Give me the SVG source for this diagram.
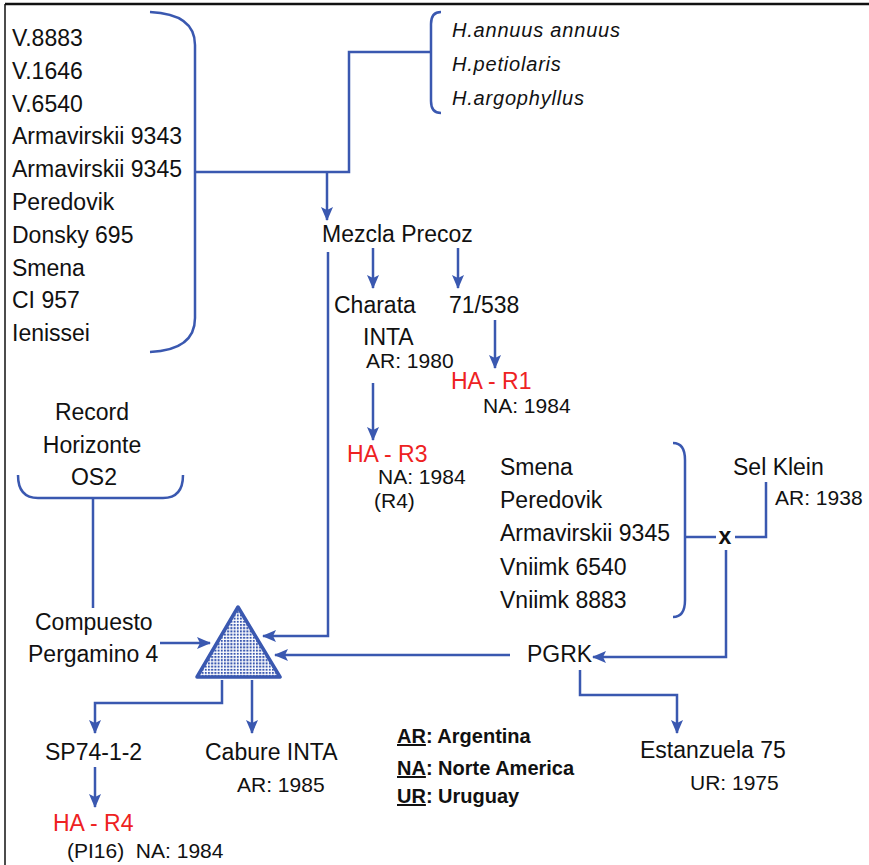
<svg xmlns="http://www.w3.org/2000/svg" width="869" height="865" viewBox="0 0 869 865">
<style>
text{font-family:"Liberation Sans",Arial,sans-serif;fill:#111;}
.t{font-size:23px;}
.s{font-size:21px;}
.r{font-size:23px;fill:#ee2222;}
.i{font-size:20px;font-style:italic;letter-spacing:0.8px;}
.lg{font-size:20px;font-weight:bold;}
.ln{fill:none;stroke:#3a58b0;stroke-width:2.5;}
.ar{fill:none;stroke:#3a58b0;stroke-width:2.5;marker-end:url(#ah);}
</style>
<defs>
<marker id="ah" viewBox="0 0 14 12" refX="13" refY="6" markerWidth="14" markerHeight="12" markerUnits="userSpaceOnUse" orient="auto">
<path d="M0,0 L14,6 L0,12 L3,6 Z" fill="#3a58b0"/>
</marker>
<pattern id="dots" width="3.2" height="3.2" patternUnits="userSpaceOnUse">
<rect x="0" y="0" width="2" height="2" fill="#3a58b0"/>
</pattern>
</defs>
<rect width="869" height="865" fill="#fff"/>
<path d="M5,4 L869,4" stroke="#111" stroke-width="2.5"/>
<path d="M5,4 L5,865" stroke="#111" stroke-width="1.5"/>

<g id="connectors">
<path class="ln" d="M150,12 Q195,14 195,45 L195,318 Q195,350 150,352"/>
<path class="ln" d="M441,12 Q431,12 431,24 L431,101 Q431,113 441,113"/>
<path class="ln" d="M431,52 L349,52 L349,172 L195,172"/>
<path class="ar" d="M327,172 L327,220"/>
<path class="ar" d="M373,248 L373,288"/>
<path class="ar" d="M458,248 L458,288"/>
<path class="ar" d="M495,320 L495,368"/>
<path class="ar" d="M373,383 L373,440"/>
<path class="ar" d="M328,252 L328,636 L263,636"/>
<path class="ln" d="M18,475 Q18,498 38,498 L163,498 Q183,498 183,475"/>
<path class="ln" d="M93,498 L93,608"/>
<path class="ar" d="M160,643 L210,643"/>
<path class="ln" d="M673,443 Q685,443 685,460 L685,600 Q685,617 673,617"/>
<path class="ln" d="M685,537 L716,537"/>
<path class="ln" d="M735,537 L766,537 L766,482"/>
<path class="ar" d="M726,550 L726,657 L593,657"/>
<path class="ar" d="M510,655 L275,655"/>
<path class="ar" d="M580,670 L580,695 L677,695 L677,733"/>
<path class="ar" d="M222,680 L222,703 L95,703 L95,733"/>
<path class="ar" d="M252,680 L252,733"/>
<path class="ar" d="M95,767 L95,807"/>
</g>

<g id="cultivars-left">
<text class="t" x="12" y="46">V.8883</text>
<text class="t" x="12" y="79">V.1646</text>
<text class="t" x="12" y="112">V.6540</text>
<text class="t" x="12" y="144">Armavirskii 9343</text>
<text class="t" x="12" y="177">Armavirskii 9345</text>
<text class="t" x="12" y="210">Peredovik</text>
<text class="t" x="12" y="243">Donsky 695</text>
<text class="t" x="12" y="276">Smena</text>
<text class="t" x="12" y="308">CI 957</text>
<text class="t" x="12" y="341">Ienissei</text>
</g>
<g id="wild-species">
<text class="i" x="452" y="37">H.annuus annuus</text>
<text class="i" x="452" y="71">H.petiolaris</text>
<text class="i" x="452" y="105">H.argophyllus</text>
</g>
<g id="mezcla-precoz"><text class="t" x="322" y="242">Mezcla Precoz</text></g>
<g id="charata">
<text class="t" x="334" y="313">Charata</text>
<text class="t" x="363" y="345">INTA</text>
<text class="s" x="366" y="368">AR: 1980</text>
</g>
<g id="n71-538"><text class="t" x="449" y="313">71/538</text></g>
<g id="ha-r1">
<text class="r" x="451" y="389">HA - R1</text>
<text class="s" x="483" y="413">NA: 1984</text>
</g>
<g id="ha-r3">
<text class="r" x="347" y="462">HA - R3</text>
<text class="s" x="378" y="484">NA: 1984</text>
<text class="s" x="374" y="508">(R4)</text>
</g>
<g id="record-group">
<text class="t" x="92" y="420" text-anchor="middle">Record</text>
<text class="t" x="92" y="453" text-anchor="middle">Horizonte</text>
<text class="t" x="94" y="485" text-anchor="middle">OS2</text>
</g>
<g id="compuesto">
<text class="t" x="35" y="630">Compuesto</text>
<text class="t" x="28" y="662">Pergamino 4</text>
</g>
<g id="triangle">
<path d="M238,607 L280,677 L197,677 Z" fill="url(#dots)" stroke="#3a58b0" stroke-width="3.5" stroke-linejoin="round"/>
</g>
<g id="smena-group">
<text class="t" x="500" y="475">Smena</text>
<text class="t" x="500" y="508">Peredovik</text>
<text class="t" x="500" y="541">Armavirskii 9345</text>
<text class="t" x="500" y="575">Vniimk 6540</text>
<text class="t" x="500" y="608">Vniimk 8883</text>
</g>
<g id="cross"><text x="725" y="544" text-anchor="middle" style="font-size:23px;font-weight:bold">x</text></g>
<g id="sel-klein">
<text class="t" x="733" y="475">Sel Klein</text>
<text class="s" x="775" y="505">AR: 1938</text>
</g>
<g id="pgrk"><text class="t" x="527" y="662">PGRK</text></g>
<g id="estanzuela">
<text class="t" x="640" y="758">Estanzuela 75</text>
<text class="s" x="690" y="790">UR: 1975</text>
</g>
<g id="sp74">
<text class="t" x="45" y="760">SP74-1-2</text>
</g>
<g id="cabure">
<text class="t" x="205" y="760">Cabure INTA</text>
<text class="s" x="237" y="792">AR: 1985</text>
</g>
<g id="ha-r4">
<text class="r" x="53" y="831">HA - R4</text>
<text class="s" x="67" y="858" xml:space="preserve">(PI16)  NA: 1984</text>
</g>
<g id="legend">
<text class="lg" x="397" y="743"><tspan text-decoration="underline">AR</tspan>: Argentina</text>
<text class="lg" x="397" y="775"><tspan text-decoration="underline">NA</tspan>: Norte America</text>
<text class="lg" x="397" y="803"><tspan text-decoration="underline">UR</tspan>: Uruguay</text>
</g>
</svg>
